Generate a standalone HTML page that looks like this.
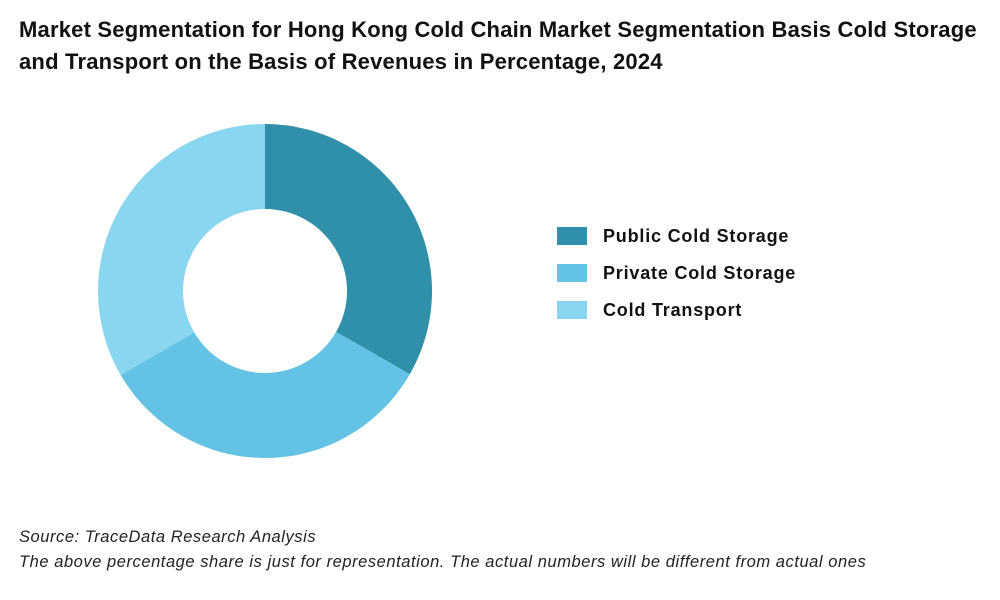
<!DOCTYPE html>
<html><head><meta charset="utf-8">
<style>
body{margin:0;width:1000px;height:600px;background:#fff;font-family:"Liberation Sans",sans-serif;overflow:hidden;position:relative}
.title{position:absolute;left:19px;top:14px;font-size:22px;font-weight:bold;line-height:32px;color:#111;width:960px;letter-spacing:0.2px}
.foot{position:absolute;left:19px;font-size:16.5px;font-style:italic;color:#222;letter-spacing:0.55px;white-space:nowrap}
</style></head><body>
<div class="title">Market Segmentation for Hong Kong Cold Chain Market Segmentation Basis Cold Storage and Transport on the Basis of Revenues in Percentage, 2024</div>
<svg id="chart" width="1000" height="600" style="position:absolute;left:0;top:0"></svg>
<div class="foot" style="top:528px">Source: TraceData Research Analysis</div>
<div class="foot" style="top:553px">The above percentage share is just for representation. The actual numbers will be different from actual ones</div>
<script>
const categories=["Public Cold Storage","Private Cold Storage","Cold Transport"];
const values=[33.3,33.3,33.4];
const colors=["#3090aa","#64c3e5","#88d6f0"];
const svg=document.getElementById('chart');
const NS="http://www.w3.org/2000/svg";
const cx=265,cy=291,R=167,r=82;
const total=values.reduce((a,b)=>a+b,0);
function pt(rad,a){return [cx+rad*Math.sin(a),cy-rad*Math.cos(a)];}
let start=0;
values.forEach((v,i)=>{
  const end=start+v/total*2*Math.PI;
  const large=(end-start)>Math.PI?1:0;
  const [x1,y1]=pt(R,start),[x2,y2]=pt(R,end),[x3,y3]=pt(r,end),[x4,y4]=pt(r,start);
  const p=document.createElementNS(NS,'path');
  p.setAttribute('d',`M${x1},${y1}A${R},${R} 0 ${large} 1 ${x2},${y2}L${x3},${y3}A${r},${r} 0 ${large} 0 ${x4},${y4}Z`);
  p.setAttribute('fill',colors[i]);
  
  
  svg.appendChild(p);
  start=end;
});
categories.forEach((c,i)=>{
  const y=227+i*37;
  const rect=document.createElementNS(NS,'rect');
  rect.setAttribute('x',557);rect.setAttribute('y',y);rect.setAttribute('width',30);rect.setAttribute('height',18);
  rect.setAttribute('fill',colors[i]);
  
  
  svg.appendChild(rect);
  const t=document.createElementNS(NS,'text');
  t.setAttribute('x',603);t.setAttribute('y',y+15);
  t.setAttribute('font-size','18');t.setAttribute('font-weight','bold');t.setAttribute('fill','#111');
  t.setAttribute('letter-spacing','0.8');
  t.setAttribute('font-family','Liberation Sans, sans-serif');
  t.textContent=c;
  
  
  svg.appendChild(t);
});
</script>
</body></html>
